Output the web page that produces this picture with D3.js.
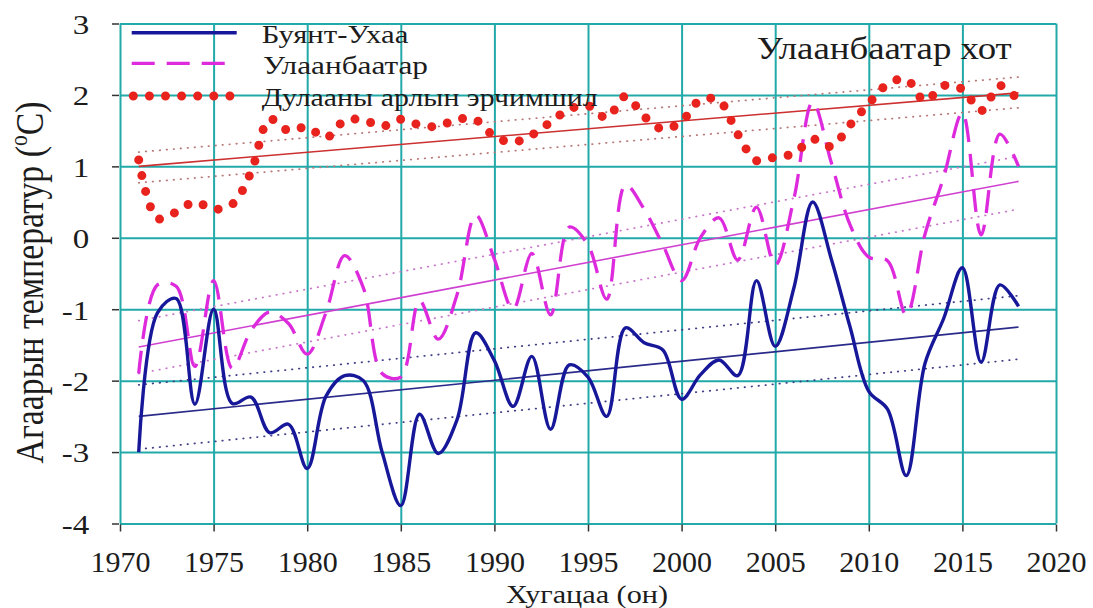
<!DOCTYPE html>
<html><head><meta charset="utf-8">
<script src="https://cdn.jsdelivr.net/npm/d3@7"></script>
<style>
html,body{margin:0;padding:0;background:#fff;}
svg{display:block;}
text{font-family:"Liberation Serif","Times New Roman",serif;fill:#1c1c1c;}
</style></head>
<body>
<svg id="chart" width="1093" height="608"></svg>
<script>
// ---- data ----
const years = [1971,1972,1973,1974,1975,1976,1977,1978,1979,1980,
  1981,1982,1983,1984,1985,1986,1987,1988,1989,1990,
  1991,1992,1993,1994,1995,1996,1997,1998,1999,2000,
  2001,2002,2003,2004,2005,2006,2007,2008,2009,2010,
  2011,2012,2013,2014,2015,2016,2017,2018];
const buyantUkhaa = [-3.00,-1.05,-0.85,-2.33,-1.00,-2.32,-2.23,-2.73,-2.61,-3.23,
  -2.22,-1.93,-2.00,-3.00,-3.75,-2.47,-3.02,-2.55,-1.33,-1.72,
  -2.36,-1.66,-2.68,-1.78,-1.95,-2.50,-1.26,-1.47,-1.57,-2.26,
  -1.92,-1.71,-1.93,-0.60,-1.52,-0.70,0.50,-0.30,-1.25,-2.15,
  -2.40,-3.33,-1.76,-1.13,-0.42,-1.74,-0.66,-0.96];
const ulaanbaatar = [-1.90,-0.66,-0.68,-1.80,-0.60,-1.83,-1.30,-1.04,-1.20,-1.63,
  -1.05,-0.25,-0.70,-1.90,-1.95,-0.88,-1.42,-0.80,0.32,-0.30,
  -1.00,-0.22,-1.08,0.15,-0.10,-0.86,0.74,0.40,-0.10,-0.60,
  0.00,0.28,-0.31,0.43,-0.38,0.55,1.90,1.05,0.18,-0.27,
  -0.32,-1.08,0.05,0.85,1.75,0.04,1.45,1.00];
const heatIsland = [1.09,0.27,0.36,0.50,0.40,0.47,0.92,1.66,1.50,1.55,
  1.40,1.64,1.65,1.56,1.66,1.58,1.56,1.66,1.65,1.42,
  1.34,1.44,1.62,1.80,1.85,1.68,1.98,1.70,1.52,1.63,
  1.93,1.92,1.45,1.08,1.13,1.18,1.38,1.28,1.58,1.88,
  2.15,2.22,1.92,2.13,2.08,1.78,2.13,1.92];
// linear trends and their bands (values at first and last year)
const trendYears = [1971, 2018];
const buyantTrend = [-2.50, -1.25];
const buyantUpper = [-2.06, -0.81];
const buyantLower = [-2.96, -1.70];
const ubTrend = [-1.53, 0.79];
const ubUpper = [-1.16, 1.14];
const ubLower = [-1.90, 0.40];
const uhiTrend = [1.00, 2.03];
const uhiUpper = [1.20, 2.25];
const uhiLower = [0.77, 1.82];
const xTicks = [1970,1975,1980,1985,1990,1995,2000,2005,2010,2015,2020];
const yTicks = [-4,-3,-2,-1,0,1,2,3];
const legendLabels = ["Буянт-Ухаа","Улаанбаатар","Дулааны арлын эрчимшил"];
const titleText = "Улаанбаатар хот";
const xTitle = "Хугацаа (он)";

// ---- drawing ----
const svg = d3.select("#chart");
const L = 120, R = 1056, T = 23.5, B = 523.5;
const x = d3.scaleLinear().domain([1970, 2020]).range([L, R]);
const y = d3.scaleLinear().domain([-4, 3]).range([B, T]);
const teal = "#22a9a9";
const navy = "#17179a";
const magenta = "#dd2add";
const red = "#e8221c";

// grid
svg.append("g").attr("transform", `translate(0,${B})`)
  .call(d3.axisBottom(x).tickValues(xTicks).tickSize(-(B - T)).tickFormat(""))
  .call(g => g.select(".domain").remove())
  .call(g => g.selectAll("line").attr("stroke", teal).attr("stroke-width", 2));
svg.append("g").attr("transform", `translate(${L},0)`)
  .call(d3.axisLeft(y).tickValues(yTicks).tickSize(-(R - L)).tickFormat(""))
  .call(g => g.select(".domain").remove())
  .call(g => g.selectAll("line").attr("stroke", teal).attr("stroke-width", 2));

// axes with ticks + labels
const xa = svg.append("g").attr("transform", `translate(0,${B})`)
  .call(d3.axisBottom(x).tickValues(xTicks).tickSize(8).tickFormat(d3.format("d")));
xa.select(".domain").remove();
xa.selectAll("line").attr("stroke", "#333").attr("stroke-width", 1.5).attr("y1", 1);
xa.selectAll("text").attr("y", 48.5).attr("dy", 0).attr("font-size", 30)
  .attr("fill", "#1c1c1c").attr("font-family", '"Liberation Serif","Times New Roman",serif');

const ya = svg.append("g").attr("transform", `translate(${L},0)`)
  .call(d3.axisLeft(y).tickValues(yTicks).tickSize(8).tickFormat(d3.format("d")));
ya.select(".domain").remove();
ya.selectAll("line").attr("stroke", "#333").attr("stroke-width", 1.5).attr("x1", -1);
ya.selectAll("text").attr("x", -26).attr("dy", "0.35em").attr("font-size", 28)
  .attr("transform", "scale(1.18,1)").text(d => d3.format("d")(d).replace("−", "-"))
  .attr("fill", "#1c1c1c").attr("font-family", '"Liberation Serif","Times New Roman",serif');

// trend lines
const seg = d3.line().x((d, i) => x(trendYears[i])).y(d => y(d));
function trend(vals, color, width, dash) {
  svg.append("path").attr("d", seg(vals)).attr("fill", "none")
    .attr("stroke", color).attr("stroke-width", width)
    .attr("stroke-dasharray", dash || null).attr("stroke-linecap", dash ? "round" : "butt");
}
trend(buyantUpper, "#404088", 1.8, "0.5 6.5");
trend(buyantLower, "#404088", 1.8, "0.5 6.5");
trend(ubUpper, "#c878c8", 1.8, "0.5 6.5");
trend(ubLower, "#c878c8", 1.8, "0.5 6.5");
trend(uhiUpper, "#b87878", 1.8, "0.5 6.5");
trend(uhiLower, "#b87878", 1.8, "0.5 6.5");
trend(buyantTrend, "#2a2a8a", 1.6);
trend(ubTrend, "#d040d0", 1.6);
trend(uhiTrend, "#cc3030", 1.6);

// smooth curves
const curve = vals => d3.line().x((d, i) => x(years[i])).y(d => y(d))
  .curve(d3.curveCatmullRom.alpha(0.5))(vals);
svg.append("path").attr("d", curve(ulaanbaatar)).attr("fill", "none")
  .attr("stroke", magenta).attr("stroke-width", 3.3).attr("stroke-dasharray", "23 12");
svg.append("path").attr("d", curve(buyantUkhaa)).attr("fill", "none")
  .attr("stroke", navy).attr("stroke-width", 3.4).attr("stroke-linejoin", "round");
svg.append("path").attr("d", curve(heatIsland)).attr("fill", "none")
  .attr("stroke", red).attr("stroke-width", 9).attr("stroke-linecap", "round")
  .attr("stroke-dasharray", "0 16.1");

// legend
const lg = svg.append("g");
const legendRows = [
  {ly: 32.7, ty: 42.7, len: 146.7, tx: 261.7, stroke: navy, w: 3.4, dash: null, cap: "butt", x1: 131.7, x2: 236.7},
  {ly: 63.3, ty: 74, len: 165, tx: 263, stroke: magenta, w: 3.3, dash: "23 12", cap: "butt", x1: 131.7, x2: 236.7},
  {ly: 96, ty: 106, len: 336, tx: 261.7, stroke: red, w: 9, dash: "0 16.1", cap: "round", x1: 133.3, x2: 230}
];
legendRows.forEach((r, i) => {
  lg.append("line").attr("x1", r.x1).attr("x2", r.x2).attr("y1", r.ly).attr("y2", r.ly)
    .attr("stroke", r.stroke).attr("stroke-width", r.w).attr("stroke-dasharray", r.dash)
    .attr("stroke-linecap", r.cap);
  lg.append("text").attr("x", r.tx).attr("y", r.ty).attr("font-size", 25)
    .attr("textLength", r.len).attr("lengthAdjust", "spacingAndGlyphs").text(legendLabels[i]);
});

// title
svg.append("text").attr("x", 756.7).attr("y", 59.3).attr("font-size", 32)
  .attr("textLength", 255).attr("lengthAdjust", "spacingAndGlyphs").text(titleText);

// axis titles
svg.append("text").attr("x", 506).attr("y", 603).attr("font-size", 26)
  .attr("textLength", 162).attr("lengthAdjust", "spacingAndGlyphs").text(xTitle);

const yt = svg.append("text").attr("transform", "translate(43,282.5) scale(1.2,1) rotate(-90)")
  .attr("text-anchor", "middle").attr("font-size", 33)
  .attr("textLength", 362).attr("lengthAdjust", "spacingAndGlyphs");
yt.append("tspan").text("Агаарын температур (");
yt.append("tspan").attr("font-size", 21).attr("dy", -13).text("o");
yt.append("tspan").attr("dy", 13).text("C)");
</script>
</body></html>
